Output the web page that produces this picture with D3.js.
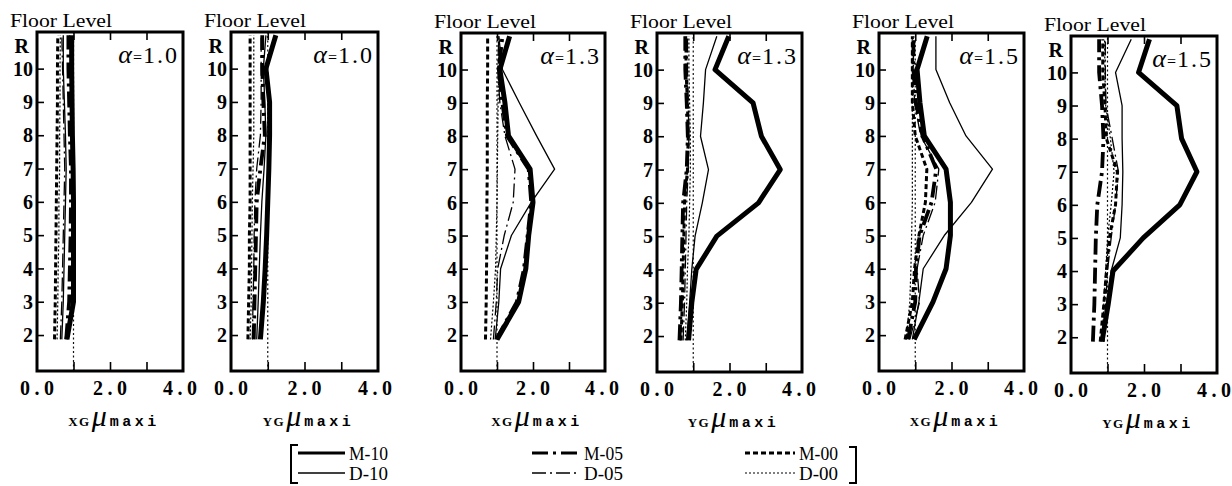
<!DOCTYPE html>
<html>
<head>
<meta charset="utf-8">
<script src="https://cdn.jsdelivr.net/npm/d3@7/dist/d3.min.js"></script>
<style>
  html, body { margin: 0; padding: 0; background: #fff; }
  svg { display: block; }
</style>
</head>
<body>
<svg id="chart" width="1232" height="486"></svg>
<script>
// ---- data -------------------------------------------------------------
// storeys from 2 up to the roof (R); the lowest point sits just below the 2 tick
const floorLabels = ["2", "3", "4", "5", "6", "7", "8", "9", "10", "R"];
const floorTicks = [2, 3, 4, 5, 6, 7, 8, 9, 10, 11];
const storyLevels = [1.87, 3, 4, 5, 6, 7, 8, 9, 10, 11];

const xTickValues = [0, 2, 4];
const xTickLabels = ["0.0", "2.0", "4.0"];
const xInnerTicks = [1, 2, 3];
const referenceDuctility = 1.0;

const panelDirections = ["XG", "YG", "XG", "YG", "XG", "YG"];
const panelAlphas = ["1.0", "1.0", "1.3", "1.3", "1.5", "1.5"];

// maximum storey ductility factor, one list per panel (storeys 2 .. R)
const m10 = [
  [0.82, 1.00, 1.00, 1.00, 1.00, 0.99, 0.97, 0.96, 0.95, 0.95],
  [0.80, 0.88, 0.93, 0.97, 1.00, 1.03, 1.05, 1.05, 0.95, 1.22],
  [1.00, 1.60, 1.80, 1.88, 2.00, 1.92, 1.32, 1.22, 1.08, 1.35],
  [0.87, 0.96, 1.08, 1.65, 2.80, 3.40, 2.88, 2.65, 1.60, 1.98],
  [0.97, 1.49, 1.85, 1.97, 1.97, 1.85, 1.25, 1.13, 1.05, 1.33],
  [0.85, 1.02, 1.15, 1.98, 2.98, 3.45, 3.03, 2.90, 1.85, 2.15]
];
const d10 = [
  [0.68, 0.72, 0.74, 0.76, 0.78, 0.80, 0.78, 0.75, 0.72, 0.72],
  [0.70, 0.74, 0.77, 0.80, 0.84, 0.90, 0.95, 0.92, 0.88, 0.95],
  [0.95, 1.05, 1.10, 1.40, 1.95, 2.60, 2.10, 1.62, 1.15, 1.05],
  [0.82, 0.90, 0.96, 1.05, 1.25, 1.42, 1.20, 1.28, 1.34, 1.65],
  [0.92, 1.10, 1.22, 1.80, 2.55, 3.13, 2.40, 1.95, 1.57, 1.57],
  [0.90, 0.97, 1.10, 1.35, 1.40, 1.42, 1.40, 1.40, 1.22, 1.65]
];
const m05 = [
  [0.80, 0.88, 0.90, 0.92, 0.93, 0.93, 0.90, 0.88, 0.86, 0.86],
  [0.62, 0.64, 0.66, 0.68, 0.70, 0.80, 0.92, 0.88, 0.85, 0.85],
  [0.98, 1.55, 1.75, 1.85, 1.95, 1.88, 1.28, 1.15, 1.05, 1.15],
  [0.62, 0.66, 0.68, 0.70, 0.72, 0.82, 0.85, 0.82, 0.78, 0.78],
  [0.80, 1.00, 1.02, 1.12, 1.45, 1.58, 1.20, 1.02, 0.95, 0.95],
  [0.60, 0.64, 0.66, 0.68, 0.72, 0.85, 0.89, 0.85, 0.77, 0.77]
];
const d05 = [
  [0.64, 0.68, 0.70, 0.72, 0.74, 0.76, 0.74, 0.72, 0.70, 0.68],
  [0.58, 0.60, 0.62, 0.63, 0.65, 0.70, 0.80, 0.82, 0.82, 0.82],
  [0.90, 0.98, 1.02, 1.20, 1.45, 1.50, 1.22, 1.08, 1.02, 1.05],
  [0.72, 0.76, 0.78, 0.80, 0.82, 0.86, 0.88, 0.86, 0.84, 0.84],
  [0.85, 1.12, 1.05, 1.22, 1.55, 1.65, 1.15, 0.98, 0.95, 0.95],
  [0.90, 0.95, 1.00, 1.10, 1.22, 1.30, 1.13, 0.96, 0.94, 0.94]
];
const m00 = [
  [0.48, 0.50, 0.51, 0.52, 0.53, 0.54, 0.55, 0.56, 0.56, 0.57],
  [0.46, 0.48, 0.50, 0.50, 0.52, 0.52, 0.52, 0.52, 0.52, 0.52],
  [0.68, 0.70, 0.71, 0.72, 0.72, 0.73, 0.73, 0.73, 0.74, 0.74],
  [0.66, 0.70, 0.72, 0.74, 0.76, 0.84, 0.86, 0.84, 0.80, 0.80],
  [0.72, 0.92, 0.98, 1.10, 1.28, 1.32, 1.00, 0.92, 0.92, 0.92],
  [0.80, 0.90, 0.97, 1.05, 1.22, 1.27, 0.97, 0.93, 0.87, 0.87]
];
const d00 = [
  [0.55, 0.57, 0.58, 0.60, 0.60, 0.62, 0.62, 0.63, 0.63, 0.64],
  [0.52, 0.55, 0.56, 0.57, 0.58, 0.60, 0.62, 0.62, 0.62, 0.62],
  [0.82, 0.90, 0.96, 0.98, 1.00, 1.01, 1.02, 1.03, 1.04, 1.05],
  [0.78, 0.82, 0.84, 0.88, 0.90, 0.92, 0.92, 0.90, 0.88, 0.88],
  [0.75, 0.85, 0.88, 0.90, 0.92, 0.92, 0.92, 0.92, 0.92, 0.92],
  [0.85, 0.90, 0.95, 1.00, 1.10, 1.18, 1.08, 0.95, 0.93, 0.92]
];

const seriesNames = ["M-10", "D-10", "M-05", "D-05", "M-00", "D-00"];
const seriesValues = { "M-10": m10, "D-10": d10, "M-05": m05, "D-05": d05, "M-00": m00, "D-00": d00 };

// ---- layout & styles --------------------------------------------------
const frameLeft   = [37, 231, 461, 657, 879, 1071];
const frameRight  = [183, 378, 605, 802, 1024, 1217];
const frameTop    = [32, 32, 33, 33, 33, 36];
const frameBottom = [371, 371, 371, 372, 371, 373];

const lineStyles = {
  "M-10": { width: 5,   dash: null },
  "D-10": { width: 1.3, dash: null },
  "M-05": { width: 3.8, dash: "16,5,3,5" },
  "D-05": { width: 1.3, dash: "14,4,2,4" },
  "M-00": { width: 3,   dash: "5,3" },
  "D-00": { width: 1.2, dash: "2,2" }
};
const drawOrder = ["D-00", "D-05", "D-10", "M-00", "M-05", "M-10"];

const serif = "'Liberation Serif','DejaVu Serif',serif";
const mono = "'Liberation Mono','DejaVu Sans Mono',monospace";
const svg = d3.select("#chart");

// ---- panels -----------------------------------------------------------
panelDirections.forEach((dir, i) => {
  const x = d3.scaleLinear().domain([0, 4]).range([frameLeft[i], frameRight[i]]);
  const y = d3.scaleLinear().domain([0.92, 11.1]).range([frameBottom[i], frameTop[i]]);
  const g = svg.append("g").attr("class", "panel");

  const clipId = "clip" + i;
  g.append("clipPath").attr("id", clipId)
    .append("rect")
    .attr("x", x(0)).attr("y", y(11.1))
    .attr("width", x(4) - x(0)).attr("height", y(0.92) - y(11.1));

  const plot = g.append("g").attr("clip-path", `url(#${clipId})`);

  // reference line at a ductility factor of 1.0
  plot.append("line")
    .attr("x1", x(referenceDuctility)).attr("x2", x(referenceDuctility))
    .attr("y1", y(0.92)).attr("y2", y(11.1))
    .attr("stroke", "#111").attr("stroke-width", 1.2)
    .attr("stroke-dasharray", "2,2.5");

  const line = d3.line().x(d => x(d[0])).y(d => y(d[1]));
  drawOrder.forEach(name => {
    const st = lineStyles[name];
    plot.append("path")
      .datum(d3.zip(seriesValues[name][i], storyLevels))
      .attr("d", line)
      .attr("fill", "none")
      .attr("stroke", "#000")
      .attr("stroke-width", st.width)
      .attr("stroke-linejoin", "round")
      .attr("stroke-dasharray", st.dash);
  });

  // inward ticks on bottom, top and left edges
  const bottomAxis = d3.axisBottom(x).tickValues(xInnerTicks).tickSize(-9).tickFormat("");
  const topAxis = d3.axisTop(x).tickValues(xInnerTicks).tickSize(-8).tickFormat("");
  const leftAxis = d3.axisLeft(y).tickValues(floorTicks.slice(0, 9)).tickSize(-7).tickFormat("");
  [[bottomAxis, `translate(0,${y(0.92)})`], [topAxis, `translate(0,${y(11.1)})`],
   [leftAxis, `translate(${x(0)},0)`]].forEach(([ax, tr]) => {
    const a = g.append("g").attr("transform", tr).call(ax);
    a.select(".domain").remove();
    a.selectAll("line").attr("stroke", "#000").attr("stroke-width", 1.6);
  });

  // frame
  g.append("rect")
    .attr("x", x(0)).attr("y", y(11.1))
    .attr("width", x(4) - x(0)).attr("height", y(0.92) - y(11.1))
    .attr("fill", "none").attr("stroke", "#000").attr("stroke-width", 3);

  // storey labels
  g.selectAll("text.floor").data(floorLabels).join("text")
    .attr("class", "floor")
    .attr("x", d => d === "R" ? x(0) - 8 : x(0) - 4)
    .attr("y", (d, k) => y(floorTicks[k]) + (d === "R" ? 10 : 0))
    .attr("dy", "0.36em")
    .attr("text-anchor", "end")
    .attr("font-family", serif).attr("font-weight", "bold").attr("font-size", 20)
    .text(d => d);

  g.append("text")
    .attr("x", x(0) - 27).attr("y", y(11.1) - 5)
    .attr("font-family", serif).attr("font-size", 18)
    .attr("textLength", 102).attr("lengthAdjust", "spacingAndGlyphs")
    .text("Floor Level");

  // x tick labels
  g.selectAll("text.xt").data(xTickValues).join("text")
    .attr("class", "xt")
    .attr("x", (d, k) => x(d) - (k === 2 ? 3 : 0))
    .attr("y", y(0.92) + 24)
    .attr("text-anchor", "middle")
    .attr("font-family", serif).attr("font-weight", "bold").attr("font-size", 20)
    .attr("textLength", 34).attr("lengthAdjust", "spacing")
    .text((d, k) => xTickLabels[k]);

  // alpha label
  const al = g.append("text")
    .attr("x", x(4) - 4).attr("y", y(11.1) + 31)
    .attr("text-anchor", "end")
    .attr("font-family", serif).attr("font-size", 24);
  al.append("tspan").attr("font-style", "italic").attr("font-size", 26).text("α");
  al.append("tspan").attr("font-size", 16).attr("dx", 1).text("=");
  al.append("tspan").attr("dx", 1).attr("letter-spacing", 2).text(panelAlphas[i]);

  // axis title  XG μ maxi
  const tt = g.append("text")
    .attr("x", (x(0) + x(4)) / 2 + 4).attr("y", y(0.92) + 55)
    .attr("text-anchor", "middle")
    .attr("font-family", serif);
  tt.append("tspan").attr("font-size", 13).attr("font-weight", "bold")
    .attr("letter-spacing", 1.5).text(dir);
  tt.append("tspan").attr("font-size", 30).attr("font-style", "italic").attr("dx", 1).text("μ");
  tt.append("tspan").attr("font-size", 15).attr("font-weight", "bold")
    .attr("font-family", mono)
    .attr("letter-spacing", 3.5).attr("dx", 3).text("maxi");
});

// ---- legend -----------------------------------------------------------
const legendCols = [[298, 345], [532, 580], [745, 795]];
const legendRows = [453, 473];
const leg = svg.append("g").attr("class", "legend");
seriesNames.forEach((name, k) => {
  const col = Math.floor(k / 2), row = k % 2;
  const st = lineStyles[name];
  const [x0, x1] = legendCols[col];
  leg.append("line")
    .attr("x1", x0).attr("x2", x1)
    .attr("y1", legendRows[row]).attr("y2", legendRows[row])
    .attr("stroke", "#000")
    .attr("stroke-width", Math.min(st.width, 3.2))
    .attr("stroke-dasharray", st.dash);
  leg.append("text")
    .attr("x", x1 + 4).attr("y", legendRows[row] + 7)
    .attr("font-family", serif).attr("font-size", 19)
    .attr("textLength", 39).attr("lengthAdjust", "spacingAndGlyphs")
    .text(name);
});
leg.append("path")
  .attr("d", d3.line()([[298, 445], [291, 445], [291, 483], [298, 483]]))
  .attr("fill", "none").attr("stroke", "#000").attr("stroke-width", 2);
leg.append("path")
  .attr("d", d3.line()([[849, 447], [856, 447], [856, 483], [849, 483]]))
  .attr("fill", "none").attr("stroke", "#000").attr("stroke-width", 2);
</script>
</body>
</html>
